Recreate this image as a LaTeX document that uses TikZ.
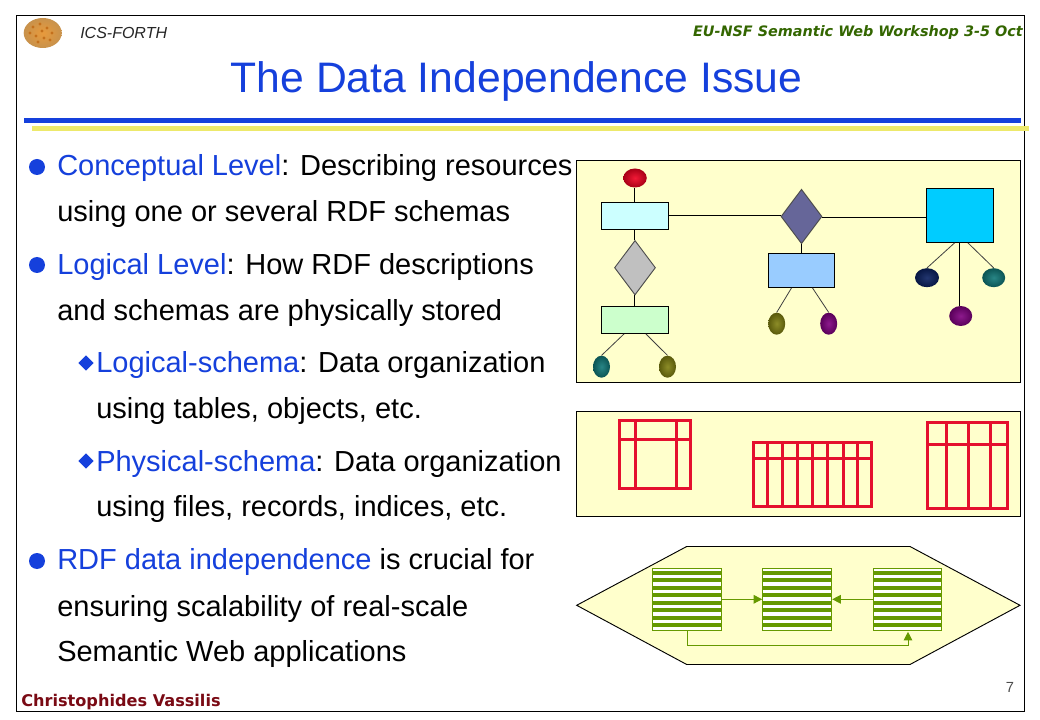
\documentclass[tikz,border=0pt]{standalone}
\usepackage{fontspec}
\setmainfont{Liberation Sans}
\newfontfamily\dv{DejaVu Sans}
\usetikzlibrary{shapes.geometric,arrows.meta,calc}
\definecolor{tblue}{HTML}{1540DC}
\definecolor{tyel}{HTML}{EDE96B}
\definecolor{pane}{HTML}{FFFFCC}
\definecolor{tred}{HTML}{E4102E}
\definecolor{tgreen}{HTML}{669900}
\definecolor{dgreen}{HTML}{336600}
\definecolor{dred}{HTML}{7A0A14}
\definecolor{fcyan}{HTML}{CCFFFF}
\definecolor{fgreen}{HTML}{CCFFCC}
\definecolor{fsky}{HTML}{99CCFF}
\definecolor{fblue}{HTML}{00CCFF}
\definecolor{fslate}{HTML}{666699}
\definecolor{fgrey}{HTML}{C0C0C0}
\definecolor{ared}{HTML}{F00020}
\definecolor{ateal}{HTML}{107878}
\definecolor{aolive}{HTML}{808010}
\definecolor{apurple}{HTML}{800080}
\definecolor{anavy}{HTML}{0A2060}
\definecolor{logoin}{HTML}{E89A3C}
\definecolor{logoout}{HTML}{C8924C}
\definecolor{logospot}{HTML}{C4701C}
\tikzset{x=0.75pt,y=-0.75pt,
 lw/.style={draw=black,line width=0.7pt},
 panel/.style={lw,fill=pane},
 ebox/.style n args={3}{rectangle,draw=black,line width=0.7pt,fill=#1,minimum width=#2*0.75pt,minimum height=#3*0.75pt,inner sep=0pt},
 dia/.style={diamond,draw=black!70,line width=0.7pt,fill=#1,minimum width=41*0.75pt,minimum height=54.5*0.75pt,inner sep=0pt,aspect=0.75},
 attr/.style n args={3}{ellipse,inner sep=0pt,minimum width=#2*0.75pt,minimum height=#3*0.75pt,inner color=#1!90!white,outer color=#1!70!black},
 conn/.style={draw=black,line width=0.75pt},
 thinconn/.style={draw=black!75,line width=0.6pt},
 tbl/.style={draw=tred,line width=2.25pt},
 flow/.style={draw=tgreen,line width=0.75pt},
 flowtip/.style={flow,-{Triangle[length=6.5pt,width=6.5pt]}},
 blockn/.style={rectangle,draw=tgreen,line width=0.75pt,fill=white,minimum width=#1*0.75pt,minimum height=62*0.75pt,inner sep=0pt},
 txt/.style={anchor=base west,inner sep=0pt,font=\fontsize{21.75pt}{24pt}\selectfont},
 dot/.style={circle,fill=tblue,inner sep=0pt,minimum size=12pt},
 dmd/.style={diamond,fill=tblue,inner sep=0pt,minimum size=11.5pt},
}
\newcommand{\bl}[1]{\textcolor{tblue}{#1}}
\begin{document}
\begin{tikzpicture}
\useasboundingbox (0,0) rectangle (1040,720);
\fill[white] (0,0) rectangle (1040,720);
% frame
\node[draw=black,line width=0.75pt,minimum width=1008*0.75pt,minimum height=696*0.75pt,inner sep=0pt] (frame) at (520.5,363.5) {};
% header
\node[ellipse,inner sep=0pt,minimum width=38*0.75pt,minimum height=30*0.75pt,inner color=logoin,outer color=logoout] (logo) at (42.7,33) {};
\foreach \a/\b in {33/27,40/24,47/28,52/33,36/36,44/38,30/33,42/31,50/40,38/42}
  \fill[logospot] (\a,\b) circle (1.6);
\node[anchor=base west,inner sep=0pt,font=\fontsize{12pt}{14pt}\selectfont\itshape,color=black!85] (ics) at (80,39) {ICS-FORTH};
\node[anchor=base east,inner sep=0pt,font=\dv\fontsize{10.8pt}{12pt}\selectfont\bfseries\itshape,color=dgreen] (eu) at (1023,36.5) {EU-NSF Semantic Web Workshop 3-5 Oct};
\node[anchor=base,inner sep=0pt,font=\fontsize{32pt}{36pt}\selectfont,color=tblue] (title) at (516.5,93) {The Data Independence Issue};
\fill[tyel] (32,126) rectangle (1029,131);
\fill[tblue] (24.3,118) rectangle (1020.7,123);
% body text
\node[dot] (b1) at (37,167) {};
\node[txt] (l1) at (57,176) {\bl{Conceptual Level}: Describing resources};
\node[txt] (l2) at (57,222) {using one or several RDF schemas};
\node[dot] (b2) at (37,265) {};
\node[txt] (l3) at (57,275) {\bl{Logical Level}: How RDF descriptions};
\node[txt] (l4) at (57,321) {and schemas are physically stored};
\node[dmd] (d1) at (86,363) {};
\node[txt] (l5) at (96,373) {\bl{Logical-schema}: Data organization};
\node[txt] (l6) at (96,419) {using tables, objects, etc.};
\node[dmd] (d2) at (86,461) {};
\node[txt] (l7) at (96,472) {\bl{Physical-schema}: Data organization};
\node[txt] (l8) at (96,517) {using files, records, indices, etc.};
\node[dot] (b3) at (37,561) {};
\node[txt] (l9) at (57,570) {\bl{RDF data independence} is crucial for};
\node[txt] (l10) at (57,616) {ensuring scalability of real-scale};
\node[txt] (l11) at (57,661) {Semantic Web applications};
% footer
\node[anchor=base west,inner sep=0pt,font=\dv\fontsize{12.1pt}{14pt}\selectfont\bfseries,color=dred] (auth) at (21,706) {Christophides Vassilis};
\node[anchor=base,inner sep=0pt,font=\fontsize{11pt}{12pt}\selectfont,color=black!70] (num) at (1010,692) {7};
% panel 1
\node[panel,rectangle,minimum width=444*0.75pt,minimum height=222*0.75pt,inner sep=0pt] (p1) at (798.5,271.5) {};
\node[attr={ared}{23.5}{19}] (red) at (635,178) {};
\node[ebox={fcyan}{67}{27}] (c) at (635,215.5) {};
\node[dia=fgrey] (gd) at (635,267.7) {};
\node[ebox={fgreen}{67}{27}] (g) at (635,320) {};
\node[attr={ateal}{17}{22}] (e1) at (601.5,366.7) {};
\node[attr={aolive}{17}{22}] (e2) at (667.5,366.7) {};
\node[dia=fslate] (dd) at (801.5,216.5) {};
\node[ebox={fsky}{66}{34}] (lb) at (801.5,270.5) {};
\node[attr={aolive}{17}{22}] (e3) at (776.7,323.7) {};
\node[attr={apurple}{17}{22}] (e4) at (828.7,323.7) {};
\node[ebox={fblue}{67}{54}] (bb) at (960,215.5) {};
\node[attr={anavy}{24}{19}] (e5) at (927,277.7) {};
\node[attr={ateal}{23}{19}] (e6) at (993.7,277.7) {};
\node[attr={apurple}{23}{20}] (e7) at (960.7,316) {};
\draw[conn] ($(red.south)+(-0.5,0)$) -- ($(c.north)+(-0.5,0)$);
\draw[conn] ($(c.south)+(-0.5,0)$) -- ($(gd.north)+(-0.5,0)$);
\draw[conn] ($(gd.south)+(-0.5,0)$) -- ($(g.north)+(-0.5,0)$);
\draw[conn] (c.east) -- (c.east-|dd.west);
\draw[conn] ($(dd.east)+(0,1)$) -- ($(dd.east-|bb.west)+(0,1)$);
\draw[conn] (dd.south) -- (lb.north);
\draw[conn] ($(bb.south)+(-0.5,0)$) -- ($(bb.south|-e7.north)+(-0.5,0)$);
\draw[thinconn] ($(g.south)+(-11,0)$) -- (e1.north);
\draw[thinconn] ($(g.south)+(11,0)$) -- (e2.north);
\draw[thinconn] ($(lb.south)+(-10,0)$) -- (e3.north);
\draw[thinconn] ($(lb.south)+(11,0)$) -- (e4.north);
\draw[thinconn] ($(bb.south)+(-5.5,0)$) -- (e5.north);
\draw[thinconn] ($(bb.south)+(8,0)$) -- (e6.north);
% panel 2
\node[panel,rectangle,minimum width=444*0.75pt,minimum height=105*0.75pt,inner sep=0pt] (p2) at (798.5,464) {};
\draw[tbl] (619.5,420.5) rectangle (690.5,488.5);
\draw[tbl] (619.5,439.5) -- (690.5,439.5) (635.5,420.5) -- (635.5,488.5) (676.5,420.5) -- (676.5,488.5);
\draw[tbl] (753.5,442.5) rectangle (871.5,506.5);
\draw[tbl] (753.5,458.5) -- (871.5,458.5);
\foreach \v in {767.5,782.5,797.5,812.5,827.5,843.5,857.5} \draw[tbl] (\v,442.5) -- (\v,506.5);
\draw[tbl] (927.5,422.5) rectangle (1007.5,508.5);
\draw[tbl] (927.5,444.5) -- (1007.5,444.5);
\foreach \v in {946.5,968.5,990.5} \draw[tbl] (\v,422.5) -- (\v,508.5);
% panel 3
\filldraw[fill=pane,draw=black,line width=0.7pt] (576.7,605.3) -- (686.7,546.5) -- (910,546.5) -- (1020,605.3) -- (910,664.5) -- (686.7,664.5) -- cycle;
\node[blockn=69] (s1) at (687.2,599.3) {};
\node[blockn=69] (s2) at (797.2,599.3) {};
\node[blockn=67.6] (s3) at (907.5,599.3) {};
\foreach \c/\w in {687.2/34.5,797.2/34.5,907.5/33.8}
  \foreach \yy in {572.7,580.1,587.7,595.1,602.7,610.1,617.7,625}
    \fill[tgreen] (\c-\w,\yy-2) rectangle (\c+\w,\yy+2);
\draw[flowtip] (s1.east) -- (s2.west);
\draw[flowtip] (s3.west) -- (s2.east);
\draw[flowtip] (s1.south) -- ++(0,15) -| ($(s3.south)+(0.5,1)$);
\end{tikzpicture}
\end{document}
